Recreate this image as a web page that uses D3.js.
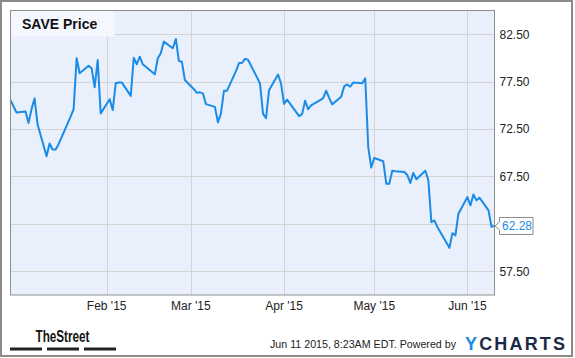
<!DOCTYPE html>
<html lang="en">
<head>
<meta charset="UTF-8">
<title>SAVE Price</title>
<script src="https://d3js.org/d3.v7.min.js"></script>
<style>
    body { margin: 0; background: #fff; }
    svg { display: block; }
    .tick-label { font-family: "Liberation Sans", Arial, sans-serif; font-size: 12px; fill: #222; }
    .footer { font-family: "Liberation Sans", Arial, sans-serif; font-size: 11px; fill: #222; }
</style>
</head>
<body>
<svg id="chart" width="575" height="358"></svg>
<script>
// trading days and closing prices
const dates = [
    "2014-12-31","2015-01-02","2015-01-05","2015-01-06","2015-01-07","2015-01-08","2015-01-09",
    "2015-01-12","2015-01-13","2015-01-14","2015-01-15","2015-01-16","2015-01-20","2015-01-21",
    "2015-01-22","2015-01-23","2015-01-26","2015-01-27","2015-01-28","2015-01-29","2015-01-30",
    "2015-02-02","2015-02-03","2015-02-04","2015-02-05","2015-02-06","2015-02-09","2015-02-10",
    "2015-02-11","2015-02-12","2015-02-13","2015-02-17","2015-02-18","2015-02-19","2015-02-20",
    "2015-02-23","2015-02-24","2015-02-25","2015-02-26","2015-02-27","2015-03-02","2015-03-03",
    "2015-03-04","2015-03-05","2015-03-06","2015-03-09","2015-03-10","2015-03-11","2015-03-12",
    "2015-03-13","2015-03-16","2015-03-17","2015-03-18","2015-03-19","2015-03-20","2015-03-23",
    "2015-03-24","2015-03-25","2015-03-26","2015-03-27","2015-03-30","2015-03-31","2015-04-01",
    "2015-04-02","2015-04-06","2015-04-07","2015-04-08","2015-04-09","2015-04-10","2015-04-13",
    "2015-04-14","2015-04-15","2015-04-16","2015-04-17","2015-04-20","2015-04-21","2015-04-22",
    "2015-04-23","2015-04-24","2015-04-27","2015-04-28","2015-04-29","2015-04-30","2015-05-01",
    "2015-05-04","2015-05-05","2015-05-06","2015-05-07","2015-05-08","2015-05-11","2015-05-12",
    "2015-05-13","2015-05-14","2015-05-15","2015-05-18","2015-05-19","2015-05-20","2015-05-21",
    "2015-05-22","2015-05-26","2015-05-27","2015-05-28","2015-05-29","2015-06-01","2015-06-02",
    "2015-06-03","2015-06-04","2015-06-05","2015-06-08","2015-06-09","2015-06-10"
];
const prices = [
    75.55, 74.25, 74.36, 73.15, 74.6, 75.73, 73.0,
    69.63, 70.97, 70.34, 70.34, 70.9, 73.8, 74.6,
    79.96, 78.38, 79.18, 78.9, 76.9, 79.78, 74.15,
    75.65, 74.5, 77.32, 77.4, 77.42, 76.0, 80.03,
    79.33, 80.13, 79.33, 78.27, 79.96, 80.49, 81.72,
    81.02, 82.0, 79.68, 79.6, 77.67, 76.7, 76.32,
    76.37, 76.26, 75.13, 74.84, 73.2, 74.15, 76.53,
    76.53, 78.6, 79.46, 79.46, 79.9, 79.8, 77.95,
    77.3, 74.1, 73.65, 76.6, 78.25, 77.3, 75.15,
    75.6, 73.86, 74.07, 75.48, 74.6, 75.0, 75.56,
    75.75, 76.54, 75.78, 75.1, 75.9, 77.0, 77.2,
    76.96, 77.4, 77.32, 77.85, 70.6, 68.44, 69.45,
    69.1, 66.74, 66.74, 68.1, 68.05, 67.97, 67.65,
    66.81, 67.88, 67.2, 68.1, 67.1, 62.68, 62.86,
    62.18, 59.97, 61.52, 61.28, 63.57, 65.33, 64.45,
    65.6, 64.98, 65.26, 63.92, 62.2, 62.28
];
const yTicks = [57.5, 62.5, 67.5, 72.5, 77.5, 82.5];
const xTicks = ["2015-02-01", "2015-03-01", "2015-04-01", "2015-05-01", "2015-06-01"];
const lastLabel = "62.28";

const parse = d3.timeParse("%Y-%m-%d");
const data = dates.map((d, i) => ({ date: parse(d), value: prices[i] }));

const svg = d3.select("#chart");
const plotL = 10.5, plotR = 494.5, plotT = 10.5, plotB = 295;

const x = d3.scaleTime()
    .domain([parse(dates[0]), parse(dates[dates.length - 1])])
    .range([plotL, plotR]);
const y = d3.scaleLinear()
    .domain([55, 85])
    .range([plotB, plotT]);

// outer frame
svg.append("rect")
    .attr("x", 1).attr("y", 1).attr("width", 571).attr("height", 355)
    .attr("fill", "#fff").attr("stroke", "#8a8a8a").attr("stroke-width", 2);

// plot background
svg.append("rect")
    .attr("x", plotL).attr("y", plotT).attr("width", plotR - plotL).attr("height", plotB - plotT)
    .attr("fill", "#e9f0fc");

// gridlines
svg.append("g").selectAll("line")
    .data(yTicks)
    .enter().append("line")
    .attr("x1", plotL).attr("x2", plotR)
    .attr("y1", d => Math.round(y(d)) + 0.5).attr("y2", d => Math.round(y(d)) + 0.5)
    .attr("stroke", "#d4d4d4");
svg.append("g").selectAll("line")
    .data(xTicks.map(parse))
    .enter().append("line")
    .attr("x1", d => Math.round(x(d)) + 0.5).attr("x2", d => Math.round(x(d)) + 0.5)
    .attr("y1", plotT).attr("y2", plotB)
    .attr("stroke", "#d4d4d4");

// title box
svg.append("rect")
    .attr("x", plotL).attr("y", plotT).attr("width", 104).attr("height", 26)
    .attr("fill", "#f4f7fd");
svg.append("text")
    .attr("x", 22).attr("y", 29)
    .attr("font-family", "'Liberation Sans', Arial, sans-serif")
    .attr("font-size", 14).attr("font-weight", "bold").attr("fill", "#111")
    .text("SAVE Price");

// price line
const line = d3.line()
    .x(d => x(d.date))
    .y(d => y(d.value));
svg.append("path")
    .datum(data)
    .attr("d", line)
    .attr("fill", "none")
    .attr("stroke", "#1a8be6")
    .attr("stroke-width", 2)
    .attr("stroke-linejoin", "round");

// plot border
svg.append("rect")
    .attr("x", plotL).attr("y", plotT).attr("width", plotR - plotL).attr("height", plotB - plotT)
    .attr("fill", "none").attr("stroke", "#8f8f8f").attr("stroke-width", 1);

// y labels (the one hidden under the last-price tag is skipped)
const ly = y(prices[prices.length - 1]);
svg.append("g").selectAll("text")
    .data(yTicks.filter(d => Math.abs(y(d) - ly) > 14))
    .enter().append("text")
    .attr("class", "tick-label")
    .attr("x", 499.5)
    .attr("y", d => y(d))
    .attr("dy", "0.36em")
    .text(d => d3.format(".2f")(d));

// x labels
const fmt = d3.timeFormat("%b '%y");
svg.append("g").selectAll("text")
    .data(xTicks.map(parse))
    .enter().append("text")
    .attr("class", "tick-label")
    .attr("x", d => x(d))
    .attr("y", 310)
    .attr("text-anchor", "middle")
    .text(d => fmt(d));

// last price tag
svg.append("path")
    .attr("d", `M495,${ly} L499.5,${ly - 4} L499.5,${ly - 8.5} L533,${ly - 8.5} L533,${ly + 8.5} L499.5,${ly + 8.5} L499.5,${ly + 4} Z`)
    .attr("fill", "#fff").attr("stroke", "#8a8a8a").attr("stroke-width", 1);
svg.append("text")
    .attr("class", "tick-label")
    .attr("x", 502).attr("y", ly).attr("dy", "0.36em")
    .style("fill", "#1a8be6")
    .text(lastLabel);

// footer: TheStreet logo
svg.append("text")
    .attr("x", 35.5).attr("y", 341.5)
    .attr("font-family", "'Liberation Sans Narrow', 'Liberation Sans', Arial, sans-serif")
    .attr("font-size", 16).attr("font-weight", "bold").attr("fill", "#111")
    .attr("textLength", 54).attr("lengthAdjust", "spacingAndGlyphs")
    .text("TheStreet");
svg.append("g").selectAll("rect")
    .data([10, 47, 84])
    .enter().append("rect")
    .attr("x", d => d).attr("y", 347.5).attr("width", 32).attr("height", 3)
    .attr("fill", "#222");

// footer: timestamp + YCharts
svg.append("text")
    .attr("class", "footer")
    .attr("x", 270).attr("y", 347.5)
    .attr("textLength", 186).attr("lengthAdjust", "spacingAndGlyphs")
    .text("Jun 11 2015, 8:23AM EDT. Powered by");
const yc = svg.append("text")
    .attr("x", 465).attr("y", 350)
    .attr("font-family", "'Liberation Sans', Arial, sans-serif")
    .attr("font-size", 18).attr("font-weight", "bold")
    .attr("textLength", 100).attr("lengthAdjust", "spacing");
yc.append("tspan").attr("fill", "#1a8be6").text("Y");
yc.append("tspan").attr("fill", "#1c2b45").text("CHARTS");
</script>
</body>
</html>
